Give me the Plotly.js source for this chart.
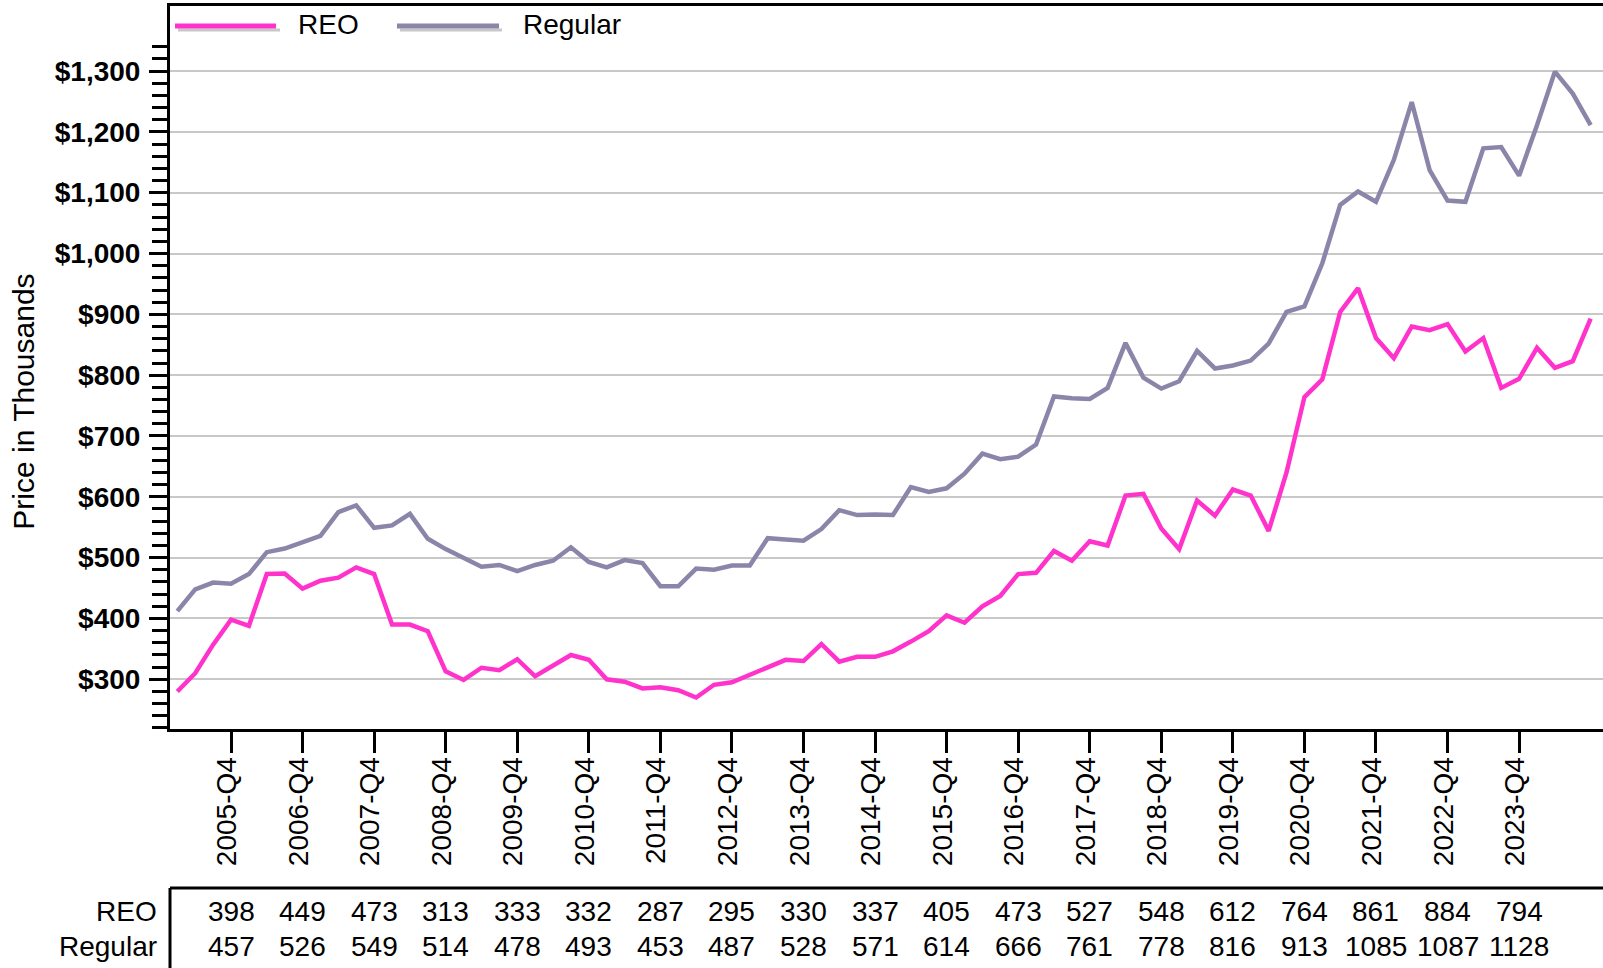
<!DOCTYPE html>
<html>
<head>
<meta charset="utf-8">
<script src="https://cdn.plot.ly/plotly-3.0.1.min.js"></script>
<style>
  html, body { margin: 0; padding: 0; background: #ffffff; }
  #chart { width: 1603px; height: 968px; }
</style>
</head>
<body>
<div id="chart"></div>
<script>
// ---- Data ----
const years = [2005, 2006, 2007, 2008, 2009, 2010, 2011, 2012, 2013, 2014,
               2015, 2016, 2017, 2018, 2019, 2020, 2021, 2022, 2023, 2024];
const quarterNames = ['Q1', 'Q2', 'Q3', 'Q4'];
const quarters = [];
years.forEach(y => quarterNames.forEach(q => quarters.push(y + '-' + q)));

const reoValues = [
  280, 310, 357, 398, 388, 473, 474, 449,
  462, 467, 484, 473, 390, 390, 379, 313,
  299, 319, 315, 333, 305, 322, 340, 332,
  300, 296, 285, 287, 282, 270, 291, 295,
  307, 318, 332, 330, 358, 329, 337, 337,
  346, 362, 379, 405, 393, 420, 437, 473,
  475, 511, 495, 527, 520, 602, 605, 548,
  514, 594, 569, 612, 602, 544, 640, 764,
  793, 904, 943, 861, 828, 880, 874, 884,
  839, 861, 779, 794, 845, 812, 823, 893
];
const regularValues = [
  412, 448, 459, 457, 473, 509, 515, 526,
  536, 575, 586, 549, 553, 572, 531, 514,
  500, 485, 488, 478, 488, 495, 517, 493,
  484, 496, 491, 453, 453, 482, 480, 487,
  487, 532, 530, 528, 547, 578, 570, 571,
  570, 616, 608, 614, 638, 671, 662, 666,
  686, 765, 762, 761, 779, 853, 796, 778,
  790, 840, 811, 816, 824, 852, 904, 913,
  984, 1080, 1102, 1085, 1154, 1249, 1137, 1087,
  1085, 1173, 1175, 1128, 1211, 1299, 1263, 1211
];

const tickLabels = ['2005-Q4', '2006-Q4', '2007-Q4', '2008-Q4', '2009-Q4', '2010-Q4',
                    '2011-Q4', '2012-Q4', '2013-Q4', '2014-Q4', '2015-Q4', '2016-Q4',
                    '2017-Q4', '2018-Q4', '2019-Q4', '2020-Q4', '2021-Q4', '2022-Q4', '2023-Q4'];
const tableREO     = [398, 449, 473, 313, 333, 332, 287, 295, 330, 337, 405, 473, 527, 548, 612, 764, 861, 884, 794];
const tableRegular = [457, 526, 549, 514, 478, 493, 453, 487, 528, 571, 614, 666, 761, 778, 816, 913, 1085, 1087, 1128];

const yMajor = [300, 400, 500, 600, 700, 800, 900, 1000, 1100, 1200, 1300];
const yMajorText = ['$300', '$400', '$500', '$600', '$700', '$800', '$900',
                    '$1,000', '$1,100', '$1,200', '$1,300'];
const yMinor = [];
for (let v = 220; v <= 1340; v += 20) yMinor.push(v);

// ---- Styles ----
const REO_COLOR = '#ff33cc';
const REG_COLOR = '#8a86a9';
const FONT = 'Liberation Sans, Arial, sans-serif';

const traces = [
  { type: 'scatter', mode: 'lines', name: 'REO', x: quarters, y: reoValues,
    line: { color: REO_COLOR, width: 4.5 }, showlegend: false },
  { type: 'scatter', mode: 'lines', name: 'Regular', x: quarters, y: regularValues,
    line: { color: REG_COLOR, width: 4.5 }, showlegend: false }
];

const annotations = [];
// table cells
tickLabels.forEach((lab, k) => {
  annotations.push({ xref: 'x', yref: 'paper', x: lab, y: -0.2527, text: String(tableREO[k]),
    showarrow: false, xanchor: 'center', yanchor: 'middle', font: { family: FONT, size: 28, color: '#000' } });
  annotations.push({ xref: 'x', yref: 'paper', x: lab, y: -0.3011, text: String(tableRegular[k]),
    showarrow: false, xanchor: 'center', yanchor: 'middle', font: { family: FONT, size: 28, color: '#000' } });
});
// table row labels
annotations.push({ xref: 'paper', yref: 'paper', x: -0.0075, y: -0.2527, text: 'REO',
  showarrow: false, xanchor: 'right', yanchor: 'middle', font: { family: FONT, size: 28, color: '#000' } });
annotations.push({ xref: 'paper', yref: 'paper', x: -0.0075, y: -0.3011, text: 'Regular',
  showarrow: false, xanchor: 'right', yanchor: 'middle', font: { family: FONT, size: 28, color: '#000' } });
// legend texts
annotations.push({ xref: 'paper', yref: 'paper', x: 0.088, y: 0.9751, text: 'REO',
  showarrow: false, xanchor: 'left', yanchor: 'middle', font: { family: FONT, size: 28, color: '#000' } });
annotations.push({ xref: 'paper', yref: 'paper', x: 0.2449, y: 0.9751, text: 'Regular',
  showarrow: false, xanchor: 'left', yanchor: 'middle', font: { family: FONT, size: 28, color: '#000' } });
// y-axis title
annotations.push({ xref: 'paper', yref: 'paper', x: -0.1019, y: 0.4527, text: 'Price in Thousands',
  textangle: -90, showarrow: false, xanchor: 'center', yanchor: 'middle',
  font: { family: FONT, size: 30, color: '#000' } });

const shapes = [
  // legend samples (shadow then line)
  { type: 'line', xref: 'paper', yref: 'paper', x0: 0.0056, x1: 0.0768, y0: 0.9668, y1: 0.9668,
    line: { color: '#c8c8c8', width: 3 } },
  { type: 'line', xref: 'paper', yref: 'paper', x0: 0.0035, x1: 0.0740, y0: 0.9723, y1: 0.9723,
    line: { color: REO_COLOR, width: 5 } },
  { type: 'line', xref: 'paper', yref: 'paper', x0: 0.1605, x1: 0.2317, y0: 0.9668, y1: 0.9668,
    line: { color: '#c8c8c8', width: 3 } },
  { type: 'line', xref: 'paper', yref: 'paper', x0: 0.1584, x1: 0.2296, y0: 0.9723, y1: 0.9723,
    line: { color: REG_COLOR, width: 5 } },
  // table frame
  { type: 'line', xref: 'paper', yref: 'paper', x0: 0, x1: 1.01, y0: -0.2199, y1: -0.2199,
    line: { color: '#000', width: 3 } },
  { type: 'line', xref: 'paper', yref: 'paper', x0: 0, x1: 0, y0: -0.2199, y1: -0.35,
    line: { color: '#000', width: 3 } }
];

const layout = {
  width: 1603, height: 968,
  margin: { l: 170, r: 0, t: 6, b: 239, pad: 0 },
  paper_bgcolor: '#ffffff', plot_bgcolor: '#ffffff',
  showlegend: false,
  font: { family: FONT, size: 28, color: '#000' },
  xaxis: {
    type: 'category',
    range: [-0.41, 79.69],
    tickmode: 'array', tickvals: tickLabels, ticktext: tickLabels,
    tickangle: -90,
    ticks: 'outside', ticklen: 21, tickwidth: 3, tickcolor: '#000',
    ticklabelstandoff: -7,
    ticklabelshift: -4,
    tickfont: { family: FONT, size: 28, color: '#000' },
    showgrid: false, zeroline: false,
    showline: true, linecolor: '#000', linewidth: 3, mirror: true
  },
  yaxis: {
    range: [218.3, 1406.9],
    tickmode: 'array', tickvals: yMajor, ticktext: yMajorText,
    ticks: 'outside', ticklen: 18, tickwidth: 3, tickcolor: '#000',
    ticklabelstandoff: 3,
    tickfont: { family: FONT, size: 28, color: '#000', weight: 'bold' },
    minor: { tickmode: 'array', tickvals: yMinor, ticks: 'outside', ticklen: 15, tickwidth: 3,
             tickcolor: '#000', showgrid: false },
    showgrid: true, gridcolor: '#c8c8c8', gridwidth: 2,
    zeroline: false,
    showline: true, linecolor: '#000', linewidth: 3, mirror: false
  },
  annotations: annotations,
  shapes: shapes
};

Plotly.newPlot('chart', traces, layout, { staticPlot: true, displayModeBar: false });
</script>
</body>
</html>
